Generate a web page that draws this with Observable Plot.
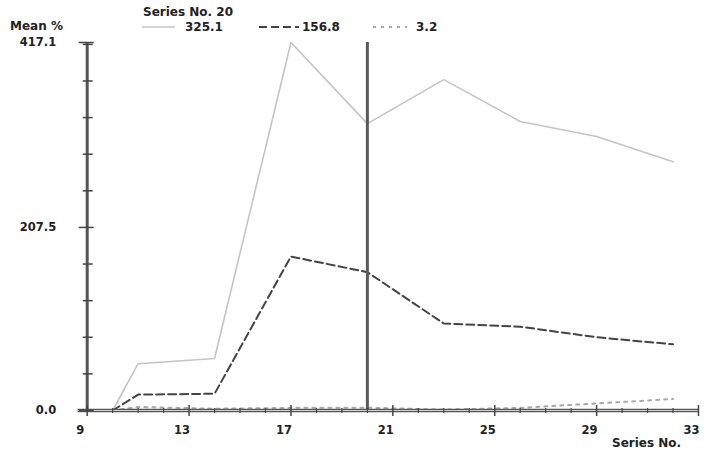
<!DOCTYPE html>
<html><head><meta charset="utf-8">
<script src="https://cdn.jsdelivr.net/npm/d3@7"></script>
<script src="https://cdn.jsdelivr.net/npm/@observablehq/plot@0.6"></script>
<style>
body{margin:0;background:#fff;}
#wrap{position:relative;width:709px;height:459px;font-family:"DejaVu Sans",sans-serif;font-weight:bold;color:#222;}
.t{position:absolute;font-size:12px;line-height:12px;white-space:nowrap;}
.s{position:absolute;}
</style></head><body>
<div id="wrap"></div>
<script>
// ---- data ----
const seriesNo = [10, 11, 14, 17, 20, 23, 26, 29, 32];
const solidValues = [0, 53, 59, 417.1, 325.1, 375, 327.5, 310.5, 282];
const dashedValues = [0, 18, 19, 174.5, 156.8, 98.6, 95, 83, 75];
const dottedValues = [0, 4, 2, 3, 3.2, 1, 3, 8, 13];
const markerSeries = 20;
const yTickLabels = [0, 207.5, 417.1];
const yMinorTicks = [41.5, 83, 124.5, 166, 249, 290.5, 332, 373.5, 415];
const xTickLabels = [9, 13, 17, 21, 25, 29, 33];
const xMinorTicks = [10, 11, 12, 14, 15, 16, 18, 19, 20, 22, 23, 24, 26, 27, 28, 30, 31, 32];
const yTitle = "Mean %";
const xTitle = "Series No.";

const solid = seriesNo.map((s, i) => ({s, v: solidValues[i]}));
const dashed = seriesNo.map((s, i) => ({s, v: dashedValues[i]}));
const dotted = seriesNo.map((s, i) => ({s, v: dottedValues[i]}));

const axisColor = "#444";
const plot = Plot.plot({
  width: 709,
  height: 459,
  marginLeft: 86.7,
  marginRight: 11,
  marginTop: 42,
  marginBottom: 49,
  style: {fontFamily: "DejaVu Sans, sans-serif", fontWeight: "bold", color: "#222", background: "#fff"},
  x: {domain: [9, 33], axis: null},
  y: {domain: [0, 417.1], axis: null},
  marks: [
    // series
    Plot.lineY(dotted, {x: "s", y: "v", stroke: "#a8a8a8", strokeWidth: 2, strokeDasharray: "3,5"}),
    Plot.lineY(solid, {x: "s", y: "v", stroke: "#c4c4c4", strokeWidth: 1.6}),
    Plot.lineY(dashed, {x: "s", y: "v", stroke: "#444", strokeWidth: 2, strokeDasharray: "8,4"}),
    // marker line
    Plot.ruleX([markerSeries], {stroke: "#5a5a5a", strokeWidth: 3}),
    // axis lines
    Plot.ruleX([9], {stroke: "#555", strokeWidth: 3}),
    Plot.ruleY([0], {stroke: "#555", strokeWidth: 3.5, insetLeft: -9}),
    Plot.ruleY([0], {stroke: "#d0d0d0", strokeWidth: 1.2, insetLeft: -9}),
    // y ticks
    Plot.axisY(yTickLabels, {anchor: "left", tickSize: 8, stroke: axisColor, strokeWidth: 1.5, fill: "none", label: null}),
    Plot.axisY(yTickLabels, {anchor: "left", tickSize: -7, stroke: axisColor, strokeWidth: 1.5, fill: "none", label: null}),
    Plot.axisY(yMinorTicks, {anchor: "left", tickSize: 4, stroke: axisColor, strokeWidth: 1.5, fill: "none", label: null}),
    Plot.axisY(yMinorTicks, {anchor: "left", tickSize: -6, stroke: axisColor, strokeWidth: 1.5, fill: "none", label: null}),
    Plot.axisY(yTickLabels, {anchor: "left", tickSize: 0, tickPadding: 31, tickFormat: d => d.toFixed(1), fontSize: 11.5, fill: "#222", label: null}),
    // x ticks
    Plot.axisX(xTickLabels, {anchor: "bottom", tickSize: 6, stroke: axisColor, strokeWidth: 1.5, fill: "none", label: null}),
    Plot.axisX(xTickLabels, {anchor: "bottom", tickSize: -5, stroke: axisColor, strokeWidth: 1.5, fill: "none", label: null}),
    Plot.axisX(xMinorTicks, {anchor: "bottom", tickSize: 3, stroke: axisColor, strokeWidth: 1.2, fill: "none", label: null}),
    Plot.axisX(xMinorTicks, {anchor: "bottom", tickSize: -2, stroke: axisColor, strokeWidth: 1.2, fill: "none", label: null}),
    Plot.axisX(xTickLabels, {anchor: "bottom", tickSize: 0, tickPadding: 15, dx: -7, tickFormat: d => String(d), fontSize: 11.5, fill: "#222", label: null})
  ]
});
const wrap = document.getElementById("wrap");
plot.style.position = "absolute";
plot.style.left = "0";
plot.style.top = "0";
wrap.appendChild(plot);

function addText(str, left, top) {
  const d = document.createElement("div");
  d.className = "t";
  d.textContent = str;
  d.style.left = left + "px";
  d.style.top = top + "px";
  wrap.appendChild(d);
  return d;
}
function addSample(left, top, w, stroke, width, dash) {
  const ns = "http://www.w3.org/2000/svg";
  const svg = document.createElementNS(ns, "svg");
  svg.setAttribute("width", w);
  svg.setAttribute("height", 6);
  svg.setAttribute("class", "s");
  svg.style.left = left + "px";
  svg.style.top = (top - 3) + "px";
  const l = document.createElementNS(ns, "line");
  l.setAttribute("x1", 0); l.setAttribute("x2", w);
  l.setAttribute("y1", 3); l.setAttribute("y2", 3);
  l.setAttribute("stroke", stroke);
  l.setAttribute("stroke-width", width);
  if (dash) l.setAttribute("stroke-dasharray", dash);
  svg.appendChild(l);
  wrap.appendChild(svg);
}
const idx = seriesNo.indexOf(markerSeries);
addText(yTitle, 10, 20);
addText(xTitle, 612, 437);
addText("Series No. " + markerSeries, 143, 6);
addSample(142, 27, 33, "#c4c4c4", 1.6, null);
addText(solidValues[idx].toFixed(1), 185, 21);
addSample(259, 27, 40, "#444", 2, "8,4");
addText(dashedValues[idx].toFixed(1), 302, 21);
addSample(373, 27, 34, "#a8a8a8", 2, "3,5");
addText(dottedValues[idx].toFixed(1), 416, 21);
</script>
</body></html>
